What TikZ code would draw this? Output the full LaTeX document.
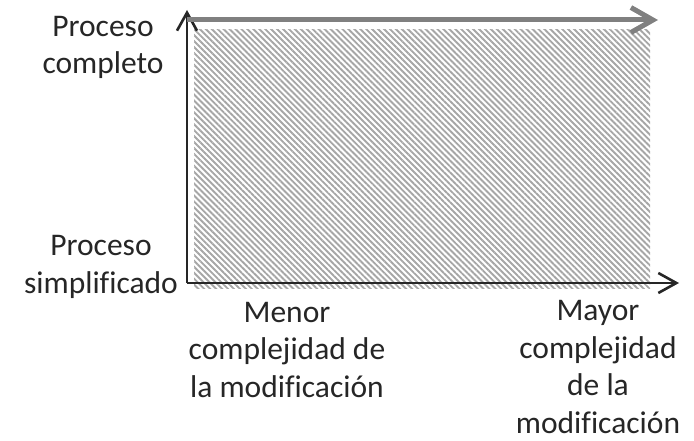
\documentclass[tikz,border=0pt]{standalone}
\usepackage{fontspec}
\setmainfont[Ligatures=NoCommon]{Carlito}
\usetikzlibrary{arrows.meta,patterns.meta}
\begin{document}
\begin{tikzpicture}[
        x=1pt, y=-1pt,
        axistext/.style={align=center, anchor=base, inner sep=0pt, text=black!85, font=\fontsize{31.5}{37.5}\selectfont},
        axis/.style={draw=black!85, line width=2.6pt, -{Straight Barb[length=18pt, width=20pt, line width=2.6pt]}},
        rangearrow/.style={draw=black!50, line width=5pt, -{Straight Barb[length=22pt, width=25pt, line width=5pt]}},
        hatch/.style={pattern={Lines[angle=-45, distance=4.2pt, line width=1.9pt]}, pattern color=black!35}
      ]
        \useasboundingbox (0, 0) rectangle (694, 441);

        \fill [hatch] (194, 30) rectangle (650, 288);

        \coordinate (origin) at (187, 283);
        \coordinate (ytop) at (187, 10);
        \coordinate (xend) at (679, 283);
        \coordinate (rstart) at (187, 20);
        \coordinate (rend) at (658, 20);

        % anchor=base sits on the last line
        \node (full) at (103, 74) [axistext] {Proceso\\completo};
        \node (simple) at (101, 293) [axistext] {Proceso\\simplificado};
        \node (less) at (287, 397) [axistext] {Menor\\complejidad de\\la modificación};
        \node (more) at (598, 433) [axistext] {Mayor\\complejidad\\de la\\modificación};

        \draw [axis] (origin) -- (ytop);
        \draw [axis] (origin) -- (xend);
        \draw [rangearrow] (rstart) -- (rend);
      \end{tikzpicture}
\end{document}
